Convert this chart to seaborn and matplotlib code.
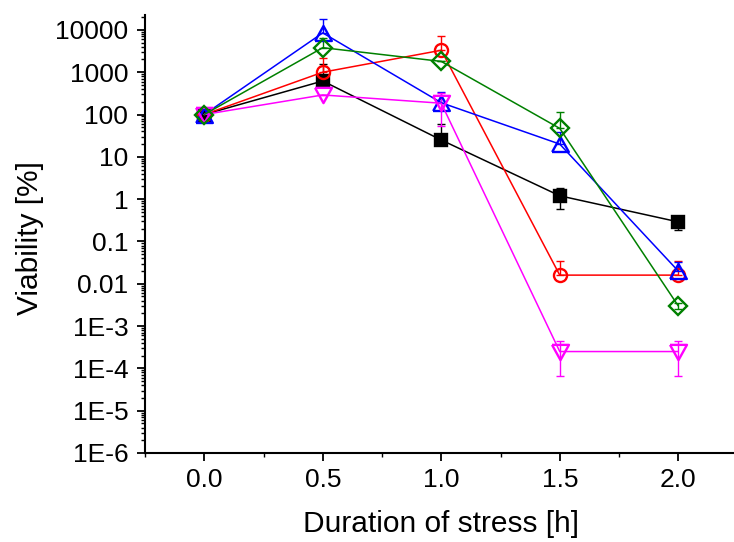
import numpy as np
import pandas as pd
import matplotlib
matplotlib.use("Agg")
import matplotlib.pyplot as plt
from matplotlib.ticker import FixedLocator, LogLocator, NullFormatter, FixedFormatter, MultipleLocator
import seaborn as sns

# Stress duration (h)
hours = [0.0, 0.5, 1.0, 1.5, 2.0]

# Viability (%) per strain, with upper / lower error bar lengths
black_val = [100, 620, 25, 1.2, 0.29]
black_hi = [0, 930, 34, 0.6, 0.1]
black_lo = [0, 0, 0, 0.6, 0.1]

red_val = [100, 1000, 3300, 0.016, 0.016]
red_hi = [0, 1140, 4000, 0.018, 0.018]
red_lo = [0, 0, 0, 0, 0]

blue_val = [100, 8500, 190, 20, 0.02]
blue_hi = [0, 10000, 160, 19, 0.012]
blue_lo = [0, 0, 0, 0, 0]

magenta_val = [100, 290, 185, 2.5e-4, 2.5e-4]
magenta_hi = [0, 0, 130, 1.85e-4, 1.85e-4]
magenta_lo = [0, 0, 130, 1.85e-4, 1.85e-4]

green_val = [100, 3800, 1800, 47, 3.0e-3]
green_hi = [0, 2660, 0, 66, 5e-4]
green_lo = [0, 0, 0, 0, 5e-4]

y_ticks = [1e-6, 1e-5, 1e-4, 1e-3, 1e-2, 1e-1, 1, 10, 100, 1000, 10000]
y_tick_labels = ["1E-6", "1E-5", "1E-4", "1E-3", "0.01", "0.1", "1", "10", "100", "1000", "10000"]
x_ticks = [0.0, 0.5, 1.0, 1.5, 2.0]
x_tick_labels = ["0.0", "0.5", "1.0", "1.5", "2.0"]

sns.set_theme(style="ticks")
plt.rcParams["font.family"] = ["Liberation Sans", "DejaVu Sans"]

fig = plt.figure(figsize=(7.34, 5.42), dpi=100)
ax = fig.add_axes([145 / 734, 89 / 542, 592.5 / 734, 438 / 542])

# triangles slightly flatter than matplotlib's default
tri_up = [(-1, -0.9), (1, -0.9), (0, 0.9), (-1, -0.9)]
tri_dn = [(-1, 0.9), (1, 0.9), (0, -0.9), (-1, 0.9)]

series = [
    ("black", black_val, black_hi, black_lo, "s", "black", 9.0),
    ("red", red_val, red_hi, red_lo, "o", "none", 9.4),
    ("blue", blue_val, blue_hi, blue_lo, tri_up, "none", 12.0),
    ("magenta", magenta_val, magenta_hi, magenta_lo, tri_dn, "none", 12.2),
    ("green", green_val, green_hi, green_lo, "D", "none", 9.0),
]
colors = {"black": "#000000", "red": "#FF0000", "blue": "#0000FF",
          "magenta": "#FF00FF", "green": "#008000"}

for name, val, hi, lo, marker, face, ms in series:
    c = colors[name]
    df = pd.DataFrame({"hours": hours, "viability": val})
    ax.errorbar(hours, val, yerr=[lo, hi], fmt="none", ecolor=c,
                elinewidth=1.0, capsize=3.2, capthick=1.0, zorder=2)
    sns.lineplot(data=df, x="hours", y="viability", ax=ax, color=c,
                 marker=marker, markersize=ms, markerfacecolor=face,
                 markeredgecolor=c, markeredgewidth=1.7, linewidth=1.1,
                 zorder=3, legend=False)

ax.set_yscale("log")
ax.set_ylim(1e-6, 2.25e4)
ax.set_xlim(-0.25, 2.25)

ax.yaxis.set_major_locator(FixedLocator(y_ticks))
ax.yaxis.set_major_formatter(FixedFormatter(y_tick_labels))
ax.yaxis.set_minor_locator(LogLocator(base=10, subs=np.arange(2, 10), numticks=30))
ax.yaxis.set_minor_formatter(NullFormatter())
ax.xaxis.set_major_locator(FixedLocator(x_ticks))
ax.xaxis.set_major_formatter(FixedFormatter(x_tick_labels))
ax.xaxis.set_minor_locator(MultipleLocator(0.25))

for side in ("top", "right"):
    ax.spines[side].set_visible(False)
for side in ("left", "bottom"):
    ax.spines[side].set_linewidth(1.5)
    ax.spines[side].set_color("black")

ax.tick_params(axis="both", which="major", direction="out", length=5.5,
               width=1.3, colors="black", labelsize=19)
ax.tick_params(axis="both", which="minor", direction="out", length=2.8,
               width=1.0, colors="black")
ax.tick_params(axis="x", which="major", pad=5)
ax.tick_params(axis="y", which="major", pad=6.5)

ax.set_xlabel("Duration of stress [h]", fontsize=21.5, color="black")
ax.set_ylabel("Viability [%]", fontsize=21.5, color="black")
ax.xaxis.set_label_coords(0.5, -0.13)
ax.yaxis.set_label_coords(-0.17, 0.49)

fig.savefig("out.png", dpi=100)
